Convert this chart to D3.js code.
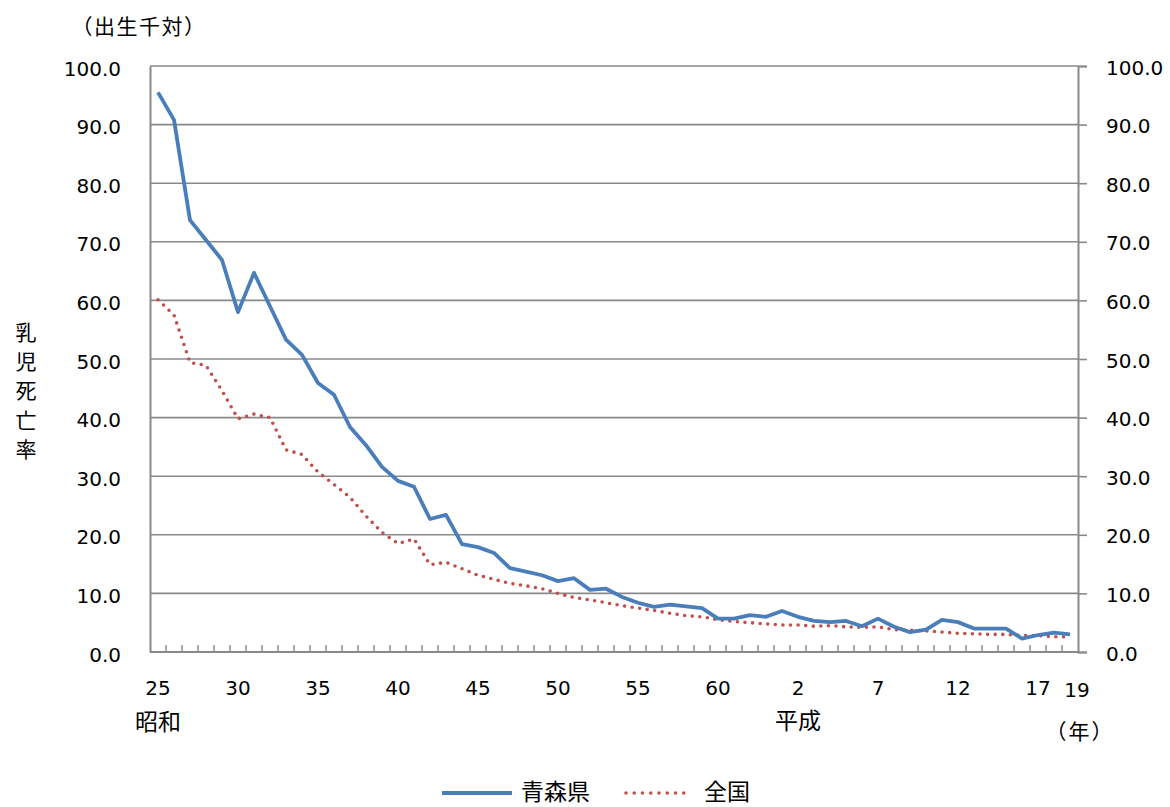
<!DOCTYPE html>
<html><head><meta charset="utf-8">
<script src="https://cdn.jsdelivr.net/npm/d3@7"></script>
<style>body{margin:0;background:#fff}</style>
</head><body>
<svg id="c" width="1170" height="807"></svg>
<script>
const categories = [];
for (let s = 25; s <= 63; s++) categories.push("S" + s);
for (let h = 1; h <= 19; h++) categories.push("H" + h);

const aomori = [95.5,90.8,73.7,70.3,66.9,58.0,64.7,59.0,53.3,50.7,45.9,43.9,38.4,35.3,31.6,29.2,28.2,22.7,23.4,18.4,
  17.9,16.9,14.3,13.7,13.1,12.1,12.6,10.6,10.8,9.4,8.4,7.7,8.1,7.8,7.5,5.7,5.7,6.3,6.0,
  7.0,6.0,5.3,5.1,5.3,4.4,5.7,4.3,3.4,3.8,5.5,5.1,4.0,4.0,4.0,2.3,2.9,3.3,3.0];
const national = [60.1,57.5,49.4,48.9,44.6,39.8,40.6,40.0,34.5,33.7,30.7,28.6,26.4,23.2,20.4,18.5,19.3,14.9,15.3,14.2,
  13.1,12.4,11.7,11.3,10.8,10.0,9.3,8.9,8.4,7.9,7.5,7.1,6.6,6.2,6.0,5.5,5.2,5.0,4.8,
  4.6,4.6,4.4,4.5,4.3,4.2,4.3,3.8,3.7,3.6,3.4,3.2,3.1,3.0,3.0,2.8,2.8,2.6,2.6];

const xTickCats = ["S25","S30","S35","S40","S45","S50","S55","S60","H2","H7","H12","H17"];
const xTickLabels = ["25","30","35","40","45","50","55","60","2","7","12","17"];
const yTicks = [0,10,20,30,40,50,60,70,80,90,100];
const seriesNames = ["青森県","全国"];

const svg = d3.select("#c");
const L = 150, R = 1078, T = 66, B = 652;
const x = d3.scaleBand().domain(categories).range([L, R]).padding(0);
const y = d3.scaleLinear().domain([0, 100]).range([B, T]);
const cx = c => x(c) + x.bandwidth() / 2;
const grey = "#898989";
const numFont = "'DejaVu Sans', Verdana, sans-serif";
const jpFont = "'Noto Sans CJK JP', sans-serif";

// gridlines
svg.append("g").selectAll("line").data(yTicks.filter(d => d > 0)).join("line")
  .attr("x1", L).attr("x2", R).attr("y1", d => y(d)).attr("y2", d => y(d))
  .attr("stroke", grey).attr("stroke-width", 1.6);

// left axis
const yl = svg.append("g").attr("transform", `translate(${L},0)`)
  .call(d3.axisLeft(y).tickValues(yTicks).tickSize(0).tickPadding(29).tickFormat(d3.format(".1f")));
yl.select(".domain").attr("stroke", grey).attr("stroke-width", 2);
yl.selectAll("text").attr("font-family", numFont).attr("font-size", 20).attr("fill", "#000").attr("dy", "0.45em");

// right axis
const yr = svg.append("g").attr("transform", `translate(${R},0)`)
  .call(d3.axisRight(y).tickValues(yTicks).tickSize(9).tickPadding(19).tickFormat(d3.format(".1f")));
yr.select(".domain").attr("stroke", grey).attr("stroke-width", 2);
yr.selectAll("line").attr("stroke", grey).attr("stroke-width", 1.6);
yr.selectAll("text").attr("font-family", numFont).attr("font-size", 20).attr("fill", "#000").attr("dy", "0.4em");

// bottom axis line and ticks (between categories)
svg.append("line").attr("x1", L).attr("x2", R).attr("y1", B).attr("y2", B)
  .attr("stroke", grey).attr("stroke-width", 2);
svg.append("g").selectAll("line").data(categories.slice(1)).join("line")
  .attr("x1", d => x(d)).attr("x2", d => x(d)).attr("y1", B).attr("y2", B - 7)
  .attr("stroke", grey).attr("stroke-width", 1.4);

// x tick labels
svg.append("g").selectAll("text").data(xTickCats).join("text")
  .attr("x", d => cx(d)).attr("y", 695).attr("text-anchor", "middle")
  .attr("font-family", numFont).attr("font-size", 20).text((d, i) => xTickLabels[i]);
svg.append("text").attr("x", cx("H19") + 7).attr("y", 697).attr("text-anchor", "middle")
  .attr("font-family", numFont).attr("font-size", 20).text("19");

// era labels
svg.append("text").attr("x", cx("S25")).attr("y", 730).attr("text-anchor", "middle")
  .attr("font-family", jpFont).attr("font-size", 23).text("昭和");
svg.append("text").attr("x", cx("H2")).attr("y", 729).attr("text-anchor", "middle")
  .attr("font-family", jpFont).attr("font-size", 23).text("平成");
svg.append("text").attr("x", 1080).attr("y", 739).attr("text-anchor", "middle")
  .attr("font-family", jpFont).attr("font-size", 21).attr("letter-spacing", 2).text("（年）");

// unit label
svg.append("text").attr("x", 139).attr("y", 34).attr("text-anchor", "middle")
  .attr("font-family", jpFont).attr("font-size", 21).attr("letter-spacing", 1.5).text("（出生千対）");

// y axis title, vertical
const title = "乳児死亡率".split("");
svg.append("g").selectAll("text").data(title).join("text")
  .attr("x", 26).attr("y", (d, i) => 340 + i * 29.2).attr("text-anchor", "middle")
  .attr("font-family", jpFont).attr("font-size", 21).text(d => d);

// lines
const line = d3.line().x((d, i) => cx(categories[i])).y(d => y(d));
svg.append("path").datum(national).attr("d", line).attr("fill", "none")
  .attr("stroke", "#C0504D").attr("stroke-width", 3.6).attr("stroke-linecap", "round")
  .attr("stroke-dasharray", "0 7.6");
svg.append("path").datum(aomori).attr("d", line).attr("fill", "none")
  .attr("stroke", "#4A7EBB").attr("stroke-width", 3.8).attr("stroke-linejoin", "round");

// legend
const lg = svg.append("g");
lg.append("line").attr("x1", 442).attr("x2", 512).attr("y1", 793).attr("y2", 793)
  .attr("stroke", "#4A7EBB").attr("stroke-width", 4);
lg.append("text").attr("x", 521).attr("y", 800).attr("font-family", jpFont).attr("font-size", 23).text(seriesNames[0]);
lg.append("line").attr("x1", 626).attr("x2", 692).attr("y1", 793).attr("y2", 793)
  .attr("stroke", "#C0504D").attr("stroke-width", 3.6).attr("stroke-linecap", "round").attr("stroke-dasharray", "0 8.25");
lg.append("text").attr("x", 704).attr("y", 800).attr("font-family", jpFont).attr("font-size", 23).text(seriesNames[1]);
</script>
</body></html>
